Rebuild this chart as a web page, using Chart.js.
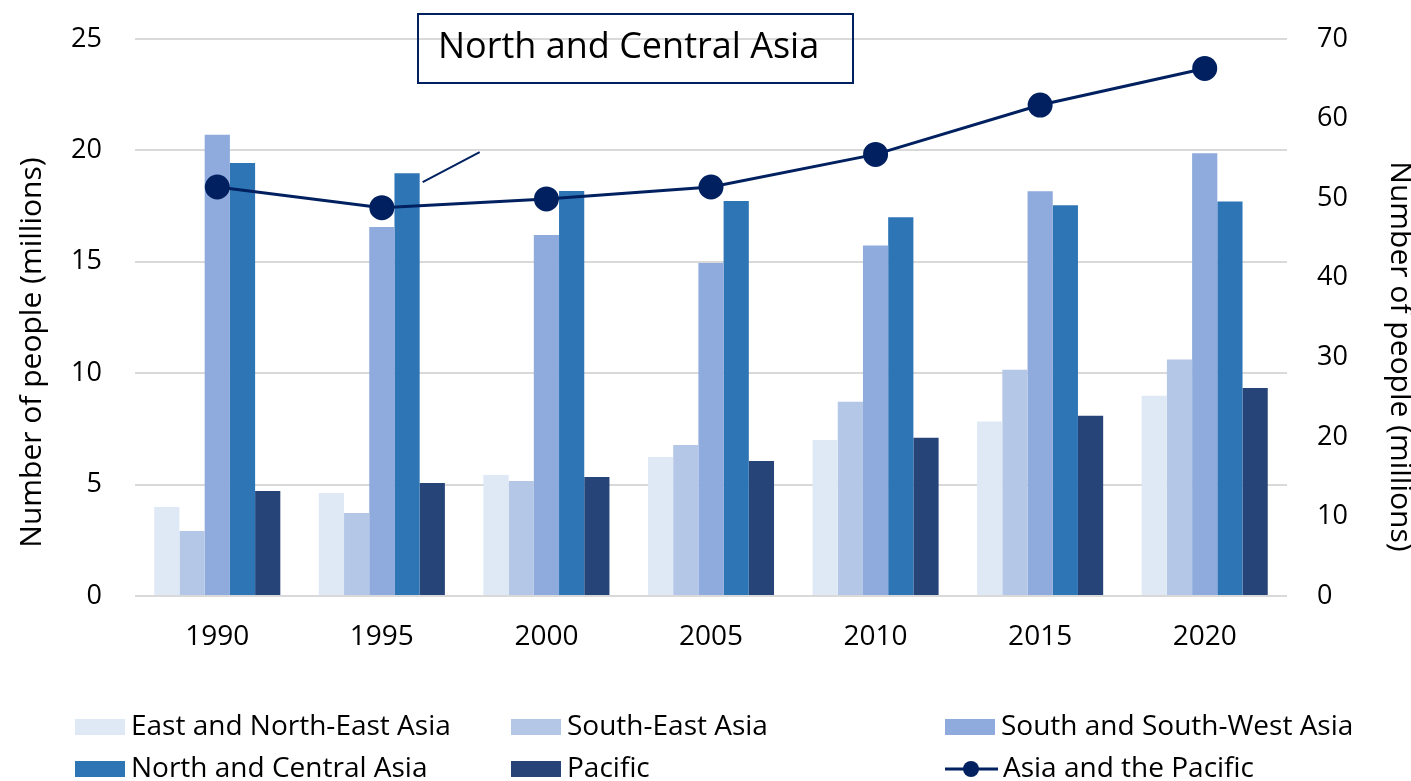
<!DOCTYPE html>
<html>
<head>
<meta charset="utf-8">
<script src="https://cdn.jsdelivr.net/npm/chart.js@4/dist/chart.umd.min.js"></script>
<style>
  html, body { margin: 0; padding: 0; background: #fff; }
  #wrap { position: relative; width: 1411px; height: 781px; }
</style>
</head>
<body>
<div id="wrap"><canvas id="myChart"></canvas></div>
<script>
// Datos (millones de personas)
const years = ['1990', '1995', '2000', '2005', '2010', '2015', '2020'];
const eastNorthEast = [4.0, 4.62, 5.43, 6.24, 7.0, 7.83, 8.99];
const southEast = [2.92, 3.72, 5.16, 6.78, 8.72, 10.16, 10.61];
const southSouthWest = [20.7, 16.56, 16.2, 14.95, 15.73, 18.17, 19.87];
const northCentral = [19.43, 18.98, 18.18, 17.73, 17.0, 17.54, 17.71];
const pacific = [4.71, 5.07, 5.34, 6.06, 7.1, 8.09, 9.34];
const asiaPacific = [51.4, 48.8, 49.9, 51.4, 55.5, 61.7, 66.3];

// Ticks de los ejes
const leftTicks = [0, 5, 10, 15, 20, 25];
const rightTicks = [0, 10, 20, 30, 40, 50, 60, 70];

const axisTitle = 'Number of people (millions)';
const calloutText = 'North and Central Asia';

// Los títulos de eje van un poco por debajo del centro: se desplazan con espacios
const pad = ' '.repeat(9);

const FONT = '"Open Sans", Lato, sans-serif';
const NAVY = '#002060';

// Leyenda en 3 columnas, dibujada en el canvas
const legendPlugin = {
  id: 'gridLegend',
  afterDraw(chart) {
    const ctx = chart.ctx;
    const cols = [75, 511, 945];
    const rows = [727, 769];
    ctx.save();
    ctx.font = '28px ' + FONT;
    ctx.textBaseline = 'middle';
    ctx.fillStyle = '#000';
    chart.data.datasets.forEach((ds, i) => {
      const x = cols[i % 3];
      const y = rows[Math.floor(i / 3)];
      if (ds.type === 'line') {
        ctx.strokeStyle = ds.borderColor;
        ctx.lineWidth = 3;
        ctx.beginPath();
        ctx.moveTo(x, y);
        ctx.lineTo(x + 53, y);
        ctx.stroke();
        ctx.fillStyle = ds.pointBackgroundColor;
        ctx.beginPath();
        ctx.arc(x + 26, y, 8, 0, Math.PI * 2);
        ctx.fill();
        ctx.fillStyle = '#000';
        ctx.fillText(ds.label, x + 58, y);
      } else {
        ctx.fillStyle = ds.backgroundColor;
        ctx.fillRect(x, y - 8, 50, 16);
        ctx.fillStyle = '#000';
        ctx.fillText(ds.label, x + 56, y);
      }
    });
    ctx.restore();
  }
};

// Cuadro "North and Central Asia" con su línea guía hacia la barra de 1995
const calloutPlugin = {
  id: 'callout',
  afterDraw(chart) {
    const ctx = chart.ctx;
    const bar = chart.getDatasetMeta(3).data[1];
    ctx.save();
    ctx.strokeStyle = NAVY;
    ctx.lineWidth = 2;
    ctx.strokeRect(418, 14, 435, 69);
    ctx.font = '36px ' + FONT;
    ctx.fillStyle = '#000';
    ctx.textBaseline = 'middle';
    ctx.fillText(calloutText, 438, 48);
    const x0 = bar.x + bar.width / 2 + 3;
    const y0 = bar.y + 9;
    ctx.lineWidth = 2;
    ctx.beginPath();
    ctx.moveTo(x0, y0);
    ctx.lineTo(x0 + 57, y0 - 30);
    ctx.stroke();
    ctx.restore();
  }
};

function barSet(label, data, color) {
  return {
    type: 'bar',
    label: label,
    data: data,
    backgroundColor: color,
    borderWidth: 0,
    yAxisID: 'y',
    order: 2,
    barPercentage: 1,
    categoryPercentage: 0.766
  };
}

const data = {
  labels: years,
  datasets: [
    barSet('East and North-East Asia', eastNorthEast, '#DEE9F5'),
    barSet('South-East Asia', southEast, '#B4C7E7'),
    barSet('South and South-West Asia', southSouthWest, '#8FAADC'),
    barSet('North and Central Asia', northCentral, '#2E75B6'),
    barSet('Pacific', pacific, '#264478'),
    {
      type: 'line',
      label: 'Asia and the Pacific',
      data: asiaPacific,
      yAxisID: 'y1',
      order: 1,
      borderColor: NAVY,
      borderWidth: 3,
      pointBackgroundColor: NAVY,
      pointBorderColor: NAVY,
      pointRadius: 11,
      pointHoverRadius: 11,
      tension: 0,
      fill: false
    }
  ]
};

const config = {
  data: data,
  options: {
    responsive: true,
    maintainAspectRatio: false,
    animation: false,
    layout: { padding: { top: 39, left: 0, right: 0, bottom: 0 } },
    plugins: {
      legend: { display: false },
      tooltip: { enabled: false }
    },
    scales: {
      x: {
        grid: { display: false, drawTicks: false },
        border: { display: false },
        ticks: { color: '#000', font: { family: FONT, size: 28 }, padding: 24 },
        afterFit(scale) { scale.height = 781 - 596; }
      },
      y: {
        position: 'left',
        min: 0,
        max: 25,
        afterBuildTicks(scale) { scale.ticks = leftTicks.map(v => ({ value: v })); },
        grid: { color: '#D9D9D9', lineWidth: 2, drawTicks: false },
        border: { display: false },
        ticks: { color: '#000', font: { family: FONT, size: 27 }, padding: 33 },
        title: {
          display: true,
          text: axisTitle + pad,
          color: '#000',
          font: { family: FONT, size: 30 },
          padding: { top: 14, bottom: 0 }
        },
        afterFit(scale) {
          scale.width = 135;
          scale.paddingTop = 0;
          scale.paddingBottom = 0;
        }
      },
      y1: {
        position: 'right',
        min: 0,
        max: 70,
        afterBuildTicks(scale) { scale.ticks = rightTicks.map(v => ({ value: v })); },
        grid: { display: false, drawTicks: false },
        border: { display: false },
        ticks: { color: '#000', font: { family: FONT, size: 27 }, padding: 30 },
        title: {
          display: true,
          text: pad + ' ' + axisTitle,
          color: '#000',
          font: { family: FONT, size: 30 },
          padding: { top: -7, bottom: 0 }
        },
        afterFit(scale) {
          scale.width = 1411 - 1287;
          scale.paddingTop = 0;
          scale.paddingBottom = 0;
        }
      }
    }
  },
  plugins: [legendPlugin, calloutPlugin]
};

const myChart = new Chart(document.getElementById('myChart'), config);
</script>
</body>
</html>
